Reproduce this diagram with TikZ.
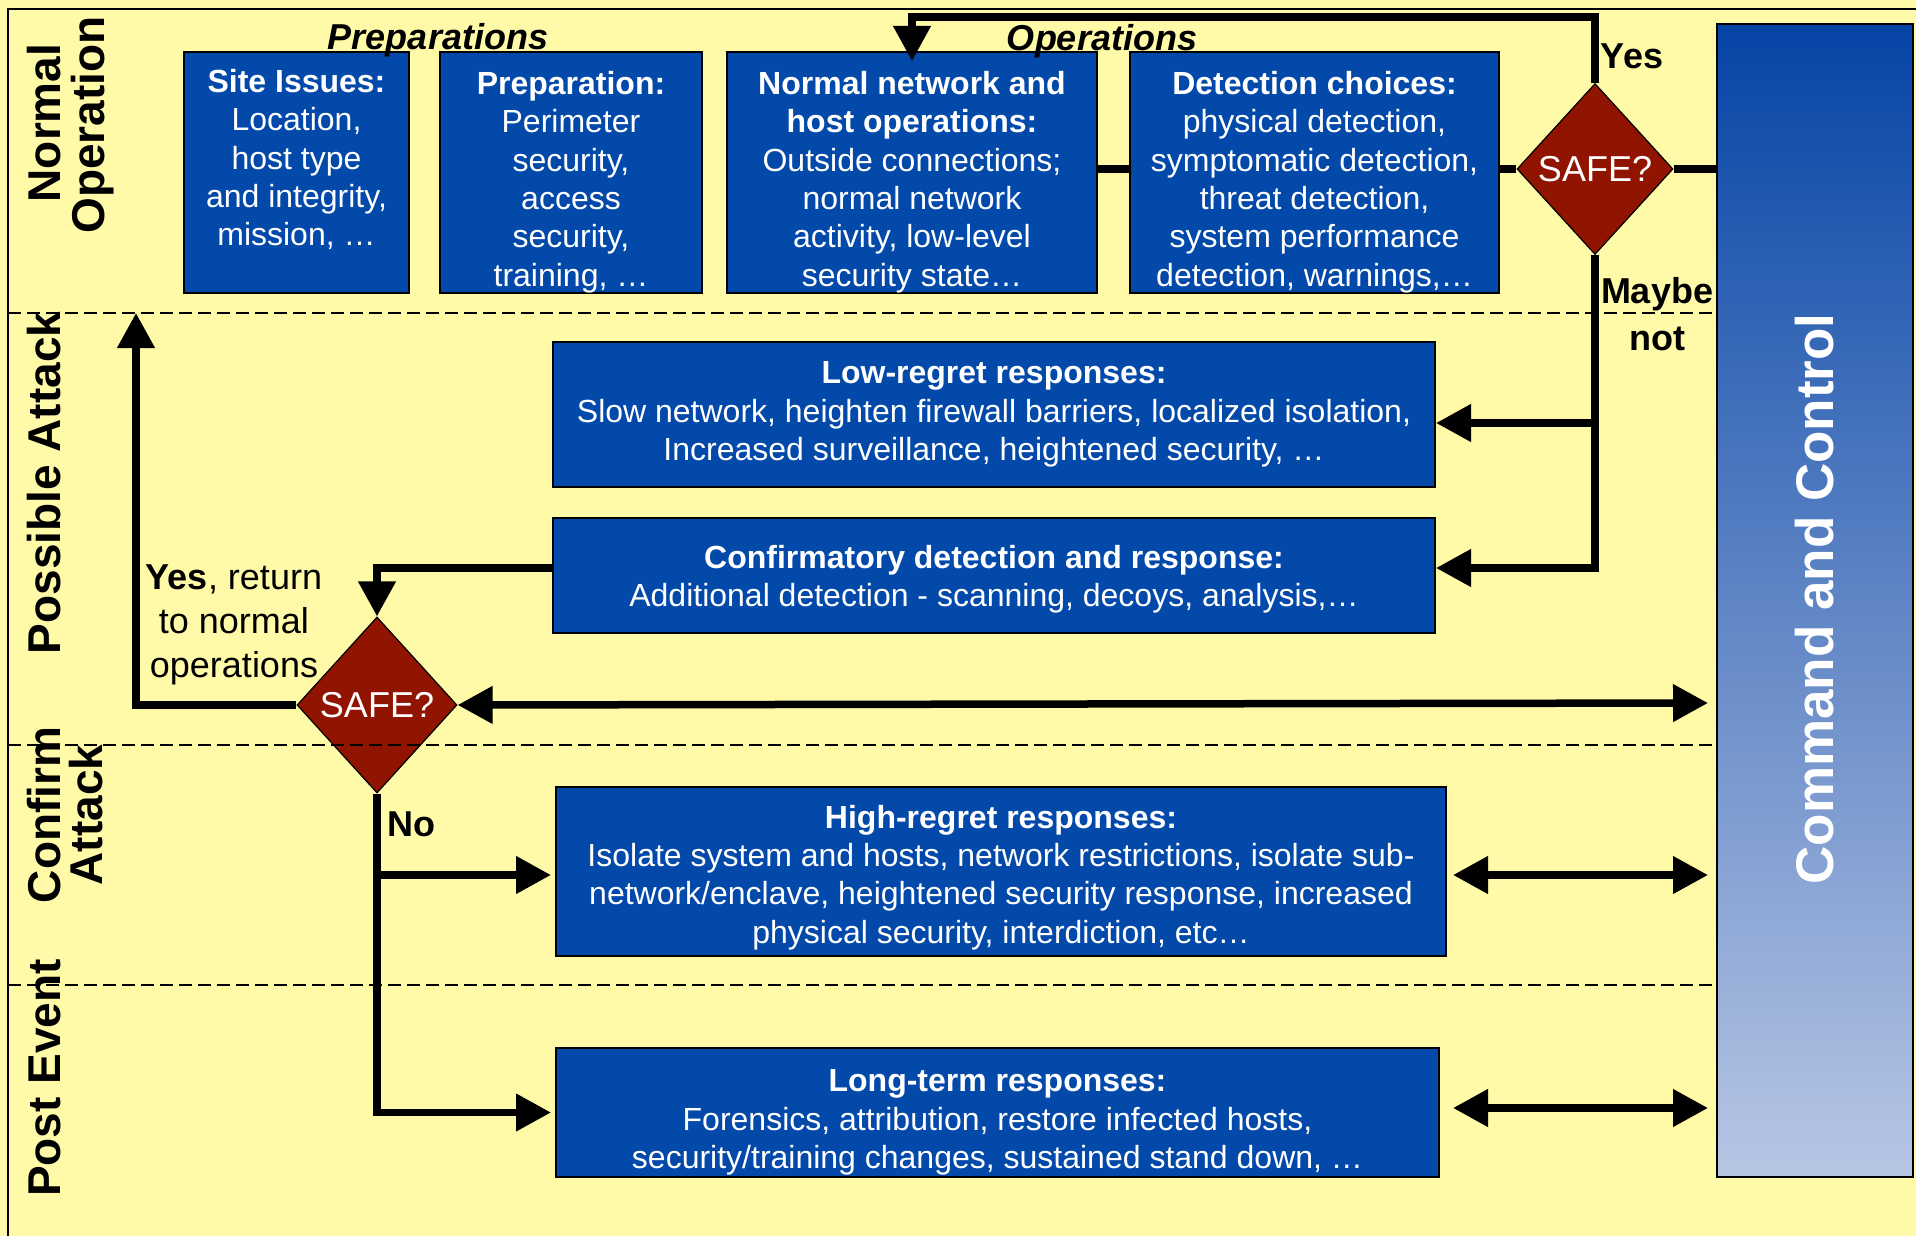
\documentclass[tikz,border=0pt]{standalone}
\usepackage{fontspec}
\setmainfont{Liberation Sans}
\usetikzlibrary{shapes.geometric,arrows.meta}

\definecolor{bgyellow}{RGB}{255,250,168}
\definecolor{boxblue}{RGB}{3,73,170}
\definecolor{safered}{RGB}{145,20,0}
\definecolor{cmdtop}{RGB}{5,68,166}
\definecolor{cmdbot}{RGB}{184,198,228}

\newcommand{\boxfont}{\fontsize{16}{19.2}\selectfont}
\newcommand{\lblfont}{\fontsize{18}{22}\selectfont}
\newcommand{\lanefont}{\fontsize{23}{27}\selectfont\bfseries}

\begin{document}
\begin{tikzpicture}[x=0.5pt,y=-0.5pt,
  bluebox/.style={draw=black, line width=1pt, fill=boxblue, inner sep=0pt},
  boxtext/.style={text=white, align=center, inner sep=0pt, font=\boxfont},
  safe/.style={diamond, draw=black, line width=0.6pt, fill=safered,
    text=white, inner sep=0pt, font=\fontsize{18}{20}\selectfont},
  conn/.style={line width=3.75pt, line join=miter, line cap=butt},
  arr/.style={-{Triangle[length=17.5pt,width=18pt]}},
  darr/.style={{Triangle[length=17.5pt,width=18pt]}-{Triangle[length=17.5pt,width=18pt]}},
  lane/.style={rotate=90, anchor=base, inner sep=0pt, font=\lanefont},
  lbl/.style={inner sep=0pt, font=\lblfont\bfseries},
  sep/.style={line width=1pt, dash pattern=on 6.5pt off 3pt},
]

% canvas and frame
\fill[bgyellow] (0,0) rectangle (1916,1236);
\useasboundingbox (0,0) rectangle (1916,1236);
\draw[line width=1.4pt] (1916,9) -- (8,9) -- (8,1236);

% command and control column
\node[draw=black, line width=0.8pt, top color=cmdtop, bottom color=cmdbot,
      minimum width=98pt, minimum height=576.5pt, inner sep=0pt] (cmd) at (1815,600.5) {};
\node[rotate=90, anchor=base, inner sep=0pt, text=white,
      font=\fontsize{26.5}{30}\selectfont\bfseries] (cmdtxt) at (1833,599) {Command and Control};

% normal operation row
\node[bluebox, minimum width=112.5pt, minimum height=120.5pt] (site) at (296.5,172.5) {};
\node[boxtext] (sitetxt) at ([yshift=-5pt]site.center)
  {\textbf{Site Issues:}\\Location,\\host type\\and integrity,\\mission, …\\\strut};
\node[bluebox, minimum width=131pt, minimum height=120.5pt] (prep) at (571,172.5) {};
\node[boxtext] (preptxt) at ([yshift=-4.75pt]prep.center)
  {\textbf{Preparation:}\\Perimeter\\security,\\access\\security,\\training, …};
\node[bluebox, minimum width=185pt, minimum height=120.5pt] (normal) at (912,172.5) {};
\node[boxtext] (normaltxt) at ([yshift=-4.75pt]normal.center)
  {\textbf{Normal network and}\\\textbf{host operations:}\\Outside connections;\\normal network\\activity, low-level\\security state…};
\node[bluebox, minimum width=184.5pt, minimum height=120.5pt] (detect) at (1314.5,172.5) {};
\node[boxtext] (detecttxt) at ([yshift=-4.75pt]detect.center)
  {\textbf{Detection choices:}\\physical detection,\\symptomatic detection,\\threat detection,\\system performance\\detection, warnings,…};

% response boxes
\node[bluebox, minimum width=441pt, minimum height=72.5pt] (low) at (994,414.5) {};
\node[boxtext] (lowtxt) at (low.center)
  {\textbf{Low-regret responses:}\\Slow network, heighten firewall barriers, localized isolation,\\Increased surveillance, heightened security, …};
\node[bluebox, minimum width=441pt, minimum height=57.5pt] (conf) at (994,575.5) {};
\node[boxtext] (conftxt) at ([yshift=-2pt]conf.center)
  {\textbf{Confirmatory detection and response:}\\Additional detection - scanning, decoys, analysis,…};
\node[bluebox, minimum width=445pt, minimum height=84.5pt] (high) at (1001,871.5) {};
\node[boxtext] (hightxt) at ([yshift=-3pt]high.center)
  {\textbf{High-regret responses:}\\Isolate system and hosts, network restrictions, isolate sub-\\network/enclave, heightened security response, increased\\physical security, interdiction, etc…};
\node[bluebox, minimum width=441.5pt, minimum height=64.5pt] (long) at (997.5,1112.5) {};
\node[boxtext] (longtxt) at ([yshift=-5pt]long.center)
  {\textbf{Long-term responses:}\\Forensics, attribution, restore infected hosts,\\security/training changes, sustained stand down, …};

% decisions
\node[safe, minimum width=78pt, minimum height=85.5pt] (d1) at (1595,169) {SAFE?};
\node[safe, minimum width=80pt, minimum height=88pt] (d2) at (377,705) {SAFE?};

% connector bends and free ends
\coordinate (ytop) at (912,17);
\coordinate (j1) at (1595,423);
\coordinate (j2) at (1595,568);
\coordinate (ret) at (136,313);
\coordinate (s2) at (1708,703);
\coordinate (h1) at (1453,875);
\coordinate (h2) at (1708,875);
\coordinate (l1) at (1453,1108);
\coordinate (l2) at (1708,1108);

% connectors: normal operation row
\draw[conn] (normal.east |- d1.west) -- (detect.west |- d1.west);
\draw[conn] (detect.east |- d1.west) -- (d1.west);
\draw[conn] (d1.east) -- (cmd.west |- d1.east);
\draw[conn, arr] (d1.north) |- (ytop) -- ([yshift=-5pt]normal.north);

% connectors: maybe not
\draw[conn] (d1.south) -- (j2);
\draw[conn, arr] ([xshift=1.8pt]j1) -- (low.east |- j1);
\draw[conn, arr] ([xshift=1.8pt]j2) -- (conf.east |- j2);

% connectors: confirmatory check
\draw[conn, arr] (conf.west |- j2) -| (d2.north);
\draw[conn, arr] (d2.west) -| (ret);
\draw[conn, darr] (d2.east) -- (s2);

% connectors: no
\draw[conn, arr] (d2.south) |- ([xshift=-2pt]long.west);
\draw[conn, arr] (d2.south |- h1) -- ([xshift=-2pt]high.west |- h1);
\draw[conn, darr] (h1) -- (h2);
\draw[conn, darr] (l1) -- (l2);

% lane separators
\draw[sep] (8,313) -- (1717,313);
\draw[sep] (8,745) -- (1717,745);
\draw[sep] (8,985) -- (1717,985);

% lane titles
\node[lane] (laneN1) at (60,123) {Normal};
\node[lane] (laneN2) at (104,125) {Operation};
\node[lane] (laneP) at (60,483) {Possible Attack};
\node[lane] (laneC1) at (60,815) {Confirm};
\node[lane] (laneC2) at (102,815) {Attack};
\node[lane] (laneE) at (60,1078) {Post Event};

% group headings and branch labels
\node[inner sep=0pt, font=\lblfont\bfseries\itshape] (hprep) at (438,40) {Preparations};
\node[inner sep=0pt, font=\lblfont\bfseries\itshape] (hops) at (1102,41) {Operations};
\node[lbl] (yes1) at (1632,56) {Yes};
\node[lbl, align=center, font=\fontsize{18}{23.5}\selectfont\bfseries] (maybe) at (1657,314) {Maybe\\not};
\node[lbl] (no) at (411,824) {No};
\node[inner sep=0pt, align=center, font=\lblfont] (yesret) at (234,625)
  {\textbf{Yes}, return\\to normal\\operations};

\end{tikzpicture}
\end{document}
